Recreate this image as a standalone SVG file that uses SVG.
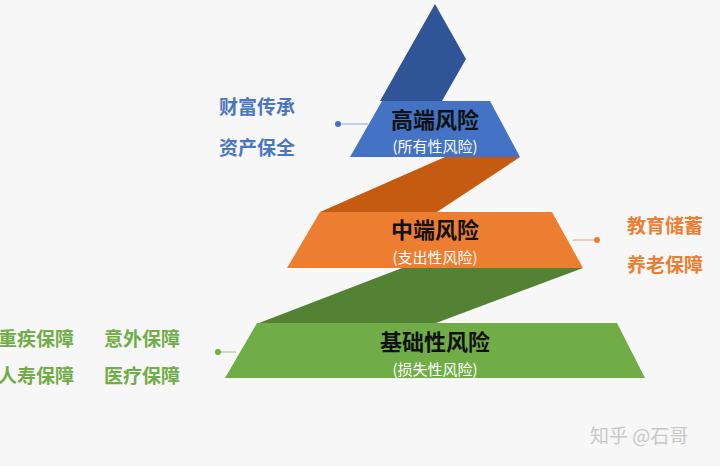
<svg xmlns="http://www.w3.org/2000/svg" width="720" height="466" viewBox="0 0 720 466">
<style>
text{font-family:"Noto Sans CJK SC","Noto Sans",sans-serif;font-weight:bold}
.t{font-size:22px;fill:#111;text-anchor:middle}
.s{font-size:15px;fill:#fff;text-anchor:middle;font-weight:normal}
.l{font-size:19px}
.b{fill:#4a76c0}.o{fill:#ec7d31}.g{fill:#70ad47}
</style>
<rect width="720" height="466" fill="#f7f7f7"/>
<g id="ribbons">
<polygon points="435,4 466,59 442,101 380,101" fill="#2f5597"/>
<polygon points="445,157 520,157 437,212 320,212" fill="#c55a11"/>
<polygon points="402,268 583,268 436,323 259,323" fill="#548235"/>
</g>
<g id="high">
<polygon points="382,101 490,101 520,157 350,157" fill="#4472c4"/>
<text class="t" x="435" y="128">高端风险</text>
<text class="s" x="435" y="152">(所有性风险)</text>
</g>
<g id="mid">
<polygon points="320,212 552,212 583,268 287,268" fill="#ed7d31"/>
<text class="t" x="435" y="238">中端风险</text>
<text class="s" x="435" y="263">(支出性风险)</text>
</g>
<g id="base">
<polygon points="257,323 617,323 645,378 225,378" fill="#70ad47"/>
<text class="t" x="435" y="350">基础性风险</text>
<text class="s" x="435" y="375">(损失性风险)</text>
</g>
<g id="connectors" stroke-width="1">
<line x1="338" y1="124" x2="368" y2="124" stroke="#8fa8d6"/><circle cx="338" cy="124" r="3" fill="#4472c4"/>
<line x1="573" y1="240" x2="597" y2="240" stroke="#f0a878"/><circle cx="597" cy="240" r="3" fill="#ed7d31"/>
<line x1="218" y1="352" x2="236" y2="352" stroke="#9cc685"/><circle cx="218" cy="352" r="3" fill="#70ad47"/>
</g>
<g id="labels">
<text class="l b" x="219" y="114">财富传承</text>
<text class="l b" x="219" y="155">资产保全</text>
<text class="l o" x="627" y="233">教育储蓄</text>
<text class="l o" x="627" y="272">养老保障</text>
<text class="l g" x="-2" y="346">重疾保障</text>
<text class="l g" x="104" y="346">意外保障</text>
<text class="l g" x="-2" y="383">人寿保障</text>
<text class="l g" x="104" y="383">医疗保障</text>
</g>
<text x="590" y="443" style="font-size:19px;font-weight:normal;fill:#c8c8c8">知乎 @石哥</text>
</svg>
